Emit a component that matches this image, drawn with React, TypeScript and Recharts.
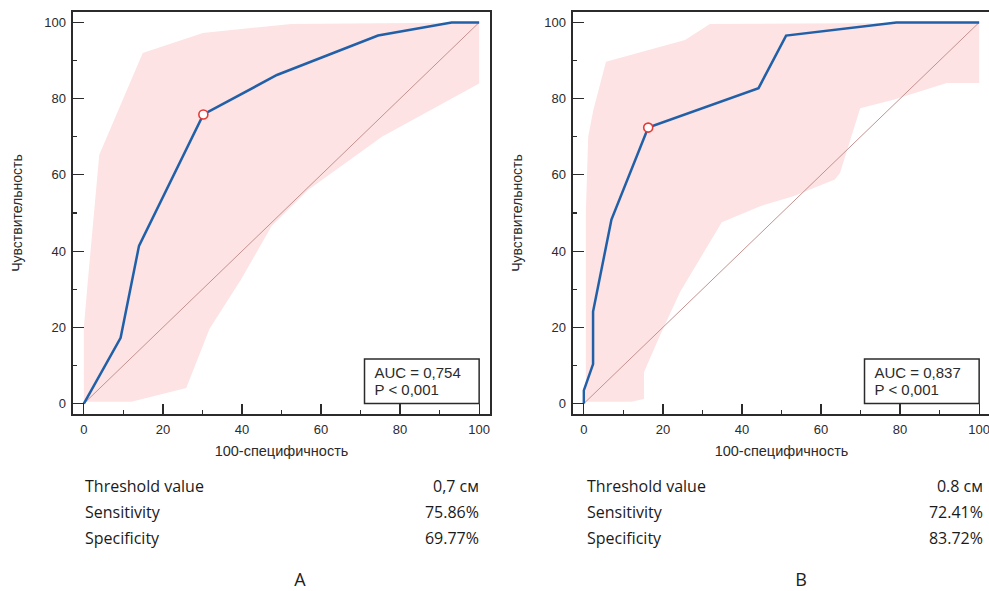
import React from "react";
import {
  ComposedChart,
  Line,
  Scatter,
  XAxis,
  YAxis,
  ReferenceLine,
  ReferenceArea,
  ReferenceDot,
} from "recharts";

// axis ticks (major every 20 with labels, minor every 10)
const axisTicks = [0, 10, 20, 30, 40, 50, 60, 70, 80, 90, 100];
const axisDomain = [-3, 103];

// panel A: ROC curve (x = 100-specificity, y = sensitivity)
const rocA = [
  { x: 0, y: 0 },
  { x: 9.3, y: 17.24 },
  { x: 13.95, y: 41.38 },
  { x: 30.23, y: 75.86 },
  { x: 48.84, y: 86.21 },
  { x: 74.42, y: 96.55 },
  { x: 93.02, y: 100 },
  { x: 100, y: 100 },
];
// panel A: confidence band outline (upper edge, then lower edge back)
const bandA = [
  { x: 0, y: 0 },
  { x: 0, y: 20 },
  { x: 1, y: 32 },
  { x: 3.9, y: 65.3 },
  { x: 14.9, y: 92 },
  { x: 30.1, y: 97.2 },
  { x: 52.5, y: 99.6 },
  { x: 100, y: 100 },
  { x: 100, y: 84 },
  { x: 75.4, y: 70 },
  { x: 56.8, y: 56.1 },
  { x: 47.5, y: 46.6 },
  { x: 39.8, y: 32.6 },
  { x: 31.8, y: 19.6 },
  { x: 25.9, y: 4.1 },
  { x: 12, y: 0.5 },
  { x: 0, y: 0.5 },
];
const cutoffA = { x: 30.23, y: 75.86 };
const aucA = "AUC = 0,754";
const pA = "P < 0,001";
const statLabels = ["Threshold value", "Sensitivity", "Specificity"];
const statsA = ["0,7 см", "75.86%", "69.77%"];

// panel B
const rocB = [
  { x: 0, y: 0 },
  { x: 0, y: 3.45 },
  { x: 2.33, y: 10.34 },
  { x: 2.33, y: 24.14 },
  { x: 6.98, y: 48.28 },
  { x: 16.28, y: 72.41 },
  { x: 44.19, y: 82.76 },
  { x: 51.16, y: 96.55 },
  { x: 79.07, y: 100 },
  { x: 100, y: 100 },
];
const bandB = [
  { x: 0.5, y: 0 },
  { x: 0.5, y: 50 },
  { x: 1.1, y: 70 },
  { x: 2.4, y: 77 },
  { x: 5.6, y: 89.7 },
  { x: 25.6, y: 95.4 },
  { x: 31.9, y: 99.6 },
  { x: 100, y: 100 },
  { x: 100, y: 84.1 },
  { x: 91.8, y: 84.1 },
  { x: 78.3, y: 79.7 },
  { x: 69.9, y: 77.5 },
  { x: 64.8, y: 60.5 },
  { x: 63.5, y: 58.8 },
  { x: 53, y: 54.4 },
  { x: 44.6, y: 51.8 },
  { x: 34.9, y: 47.6 },
  { x: 24.3, y: 29.2 },
  { x: 19.2, y: 17.7 },
  { x: 15.2, y: 8.2 },
  { x: 15.2, y: 1.2 },
  { x: 12, y: 0.5 },
  { x: 0.5, y: 0.5 },
];
const cutoffB = { x: 16.28, y: 72.41 };
const aucB = "AUC = 0,837";
const pB = "P < 0,001";
const statsB = ["0.8 см", "72.41%", "83.72%"];

const AXIS_FONT = "'Liberation Sans', Arial, sans-serif";
const TABLE_FONT = "'Open Sans', Lato, sans-serif";
const TEXT = "#2b2b2b";
const BAND = "#fde3e3";
const CURVE = "#2160a8";
const DIAG = "#c39290";

// chart box
const W = 500;
const H = 470;
const MARGIN = { top: 11, right: 9, bottom: 25, left: 0 };
const Y_AXIS_W = 72;
const X_AXIS_H = 30;

function YTick(props: any) {
  const { x, y, payload } = props;
  const v = payload.value;
  if (v % 20 !== 0) return <g />;
  return (
    <text x={x} y={y} dy={4.5} textAnchor="end" fontSize={13} fontFamily={AXIS_FONT} fill={TEXT}>
      {v}
    </text>
  );
}

function XTick(props: any) {
  const { x, y, payload } = props;
  const v = payload.value;
  if (v % 20 !== 0) return <g />;
  return (
    <text x={x} y={y} dy="0.71em" textAnchor="middle" fontSize={13} fontFamily={AXIS_FONT} fill={TEXT}>
      {v}
    </text>
  );
}

function YTitle(props: any) {
  const { viewBox } = props;
  const cx = 18;
  const cy = viewBox.y + viewBox.height / 2;
  return (
    <text
      x={cx}
      y={cy}
      transform={`rotate(-90, ${cx}, ${cy})`}
      textAnchor="middle"
      dominantBaseline="middle"
      fontSize={14}
      fontFamily={AXIS_FONT}
      fill={TEXT}
    >
      Чувствительность
    </text>
  );
}

function AucBox(props: any) {
  const { viewBox, auc, p } = props;
  return (
    <g>
      <text x={viewBox.x + 10} y={viewBox.y + 19} fontSize={15} fontFamily={AXIS_FONT} fill={TEXT}>
        {auc}
      </text>
      <text x={viewBox.x + 10} y={viewBox.y + 36} fontSize={15} fontFamily={AXIS_FONT} fill={TEXT}>
        {p}
      </text>
    </g>
  );
}

const bandShape = (props: any) => {
  const pts = props.points || [];
  const d = pts.map((pt: any, i: number) => `${i ? "L" : "M"}${pt.x},${pt.y}`).join("") + "Z";
  return <path d={d} fill={BAND} stroke="none" />;
};

// plot frame with inward ticks, laid over a panel's plot area (page coordinates)
function PlotFrame({ offsetX }: { offsetX: number }) {
  const left = offsetX + MARGIN.left + Y_AXIS_W;
  const right = offsetX + W - MARGIN.right;
  const top = MARGIN.top;
  const bottom = H - MARGIN.bottom - X_AXIS_H;
  const [lo, hi] = axisDomain;
  const sx = (v: number) => left + ((v - lo) / (hi - lo)) * (right - left);
  const sy = (v: number) => bottom - ((v - lo) / (hi - lo)) * (bottom - top);
  const mark = (l: number, t: number, w: number, h: number, key: string) => (
    <div
      key={key}
      style={{ position: "absolute", left: l, top: t, width: w, height: h, background: TEXT, zIndex: 5 }}
    />
  );
  return (
    <>
      {axisTicks.map((t) => {
        const major = t % 20 === 0;
        return (
          <React.Fragment key={t}>
            {mark(left, sy(t) - 0.6, major ? sx(0) - left : 5, 1.2, `y${t}`)}
            {mark(sx(t) - 0.6, major ? sy(0) : bottom - 5, 1.2, major ? bottom - sy(0) : 5, `x${t}`)}
          </React.Fragment>
        );
      })}
      {mark(left - 1, top - 1, right - left + 2, 2, "top")}
      {mark(left - 1, bottom - 1, right - left + 2, 2, "bottom")}
      {mark(left - 1, top - 1, 2, bottom - top + 2, "left")}
      {mark(right - 1, top - 1, 2, bottom - top + 2, "right")}
    </>
  );
}

function RocPanel({ roc, band, cutoff, auc, p }: any) {
  return (
    <ComposedChart width={W} height={H} margin={MARGIN}>
      <XAxis
        type="number"
        dataKey="x"
        domain={axisDomain}
        allowDataOverflow
        ticks={axisTicks}
        interval={0}
        tick={<XTick />}
        tickLine={false}
        axisLine={false}
        tickSize={0}
        tickMargin={10}
        height={X_AXIS_H}
        label={{
          value: "100-специфичность",
          position: "bottom",
          offset: 1,
          fontSize: 14.5,
          fontFamily: AXIS_FONT,
          fill: TEXT,
        }}
      />
      <YAxis
        type="number"
        dataKey="y"
        domain={axisDomain}
        allowDataOverflow
        ticks={axisTicks}
        interval={0}
        tick={<YTick />}
        tickLine={false}
        axisLine={false}
        tickSize={0}
        tickMargin={6}
        width={Y_AXIS_W}
        label={<YTitle />}
      />
      <Scatter
        data={band}
        dataKey="y"
        line={bandShape}
        shape={() => <g />}
        zIndex={10}
        isAnimationActive={false}
      />
      <ReferenceLine
        segment={[
          { x: 0, y: 0 },
          { x: 100, y: 100 },
        ]}
        stroke={DIAG}
        strokeWidth={1}
        zIndex={20}
      />
      <Line
        data={roc}
        dataKey="y"
        type="linear"
        stroke={CURVE}
        strokeWidth={2.5}
        dot={false}
        zIndex={30}
        isAnimationActive={false}
      />
      <ReferenceDot x={cutoff.x} y={cutoff.y} r={4.5} fill="#ffffff" stroke="#e53935" strokeWidth={1.6} zIndex={40} />
      <ReferenceArea
        x1={71}
        x2={100}
        y1={0}
        y2={11.7}
        fill="#ffffff"
        fillOpacity={1}
        stroke={TEXT}
        strokeWidth={1.5}
        zIndex={50}
        label={<AucBox auc={auc} p={p} />}
      />
    </ComposedChart>
  );
}

function StatsTable({ values, left, right }: any) {
  return (
    <div style={{ position: "absolute", left, width: right - left, top: 474, fontFamily: TABLE_FONT, fontSize: 16, color: "#1a1a1a" }}>
      {statLabels.map((lab, i) => (
        <div key={lab} style={{ display: "flex", justifyContent: "space-between", height: 26, lineHeight: "24px" }}>
          <span>{lab}</span>
          <span>{values[i]}</span>
        </div>
      ))}
    </div>
  );
}

const letterStyle: React.CSSProperties = {
  position: "absolute",
  width: 20,
  top: 569,
  height: 20,
  lineHeight: "20px",
  textAlign: "center",
  fontFamily: TABLE_FONT,
  fontSize: 18,
  color: "#222",
};

export default function App() {
  return (
    <div style={{ position: "absolute", left: 0, top: 0, width: 989, height: 591, overflow: "hidden", background: "#fff" }}>
      <div style={{ position: "absolute", left: 0, top: 0, width: W, height: H }}>
        <RocPanel roc={rocA} band={bandA} cutoff={cutoffA} auc={aucA} p={pA} />
      </div>
      <div style={{ position: "absolute", left: 500, top: 0, width: W, height: H }}>
        <RocPanel roc={rocB} band={bandB} cutoff={cutoffB} auc={aucB} p={pB} />
      </div>
      <PlotFrame offsetX={0} />
      <PlotFrame offsetX={500} />
      <StatsTable values={statsA} left={85} right={479} />
      <StatsTable values={statsB} left={587} right={983} />
      <div style={{ ...letterStyle, left: 290 }}>A</div>
      <div style={{ ...letterStyle, left: 791 }}>B</div>
    </div>
  );
}
